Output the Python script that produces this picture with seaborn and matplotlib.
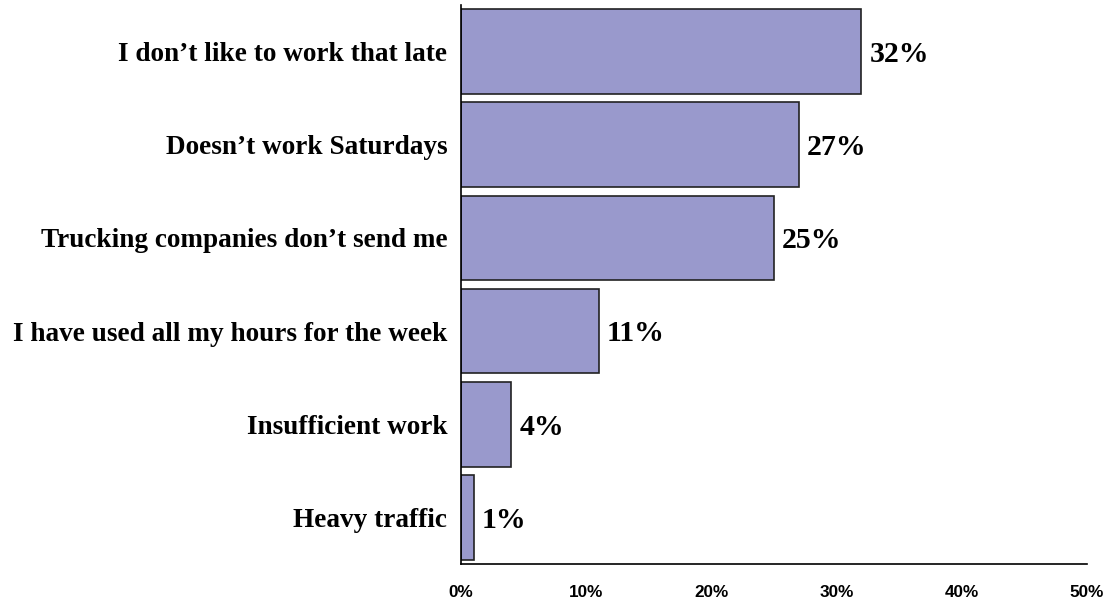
import matplotlib
matplotlib.use("Agg")
import matplotlib.pyplot as plt
import seaborn as sns
import pandas as pd
from matplotlib.ticker import FuncFormatter

reasons = [
    "I don\u2019t like to work that late",
    "Doesn\u2019t work Saturdays",
    "Trucking companies don\u2019t send me",
    "I have used all my hours for the week",
    "Insufficient work",
    "Heavy traffic",
]
shares = [32, 27, 25, 11, 4, 1]
x_ticks = [0, 10, 20, 30, 40, 50]

df = pd.DataFrame({"reason": reasons, "share": shares})

sns.set_style("white")
plt.rcParams["text.color"] = "black"
plt.rcParams["xtick.color"] = "black"
plt.rcParams["ytick.color"] = "black"

fig = plt.figure(figsize=(11.11, 6.03), dpi=100)
ax = fig.add_axes([0.415, 0.0647, 0.978 - 0.415, 0.9917 - 0.0647])

sns.barplot(data=df, y="reason", x="share", orient="h", order=reasons,
            color="#9999CC", saturation=1, width=0.91,
            edgecolor="#222222", linewidth=1.2, ax=ax)

ax.set_xlim(0, 50)
ax.set_ylim(len(reasons) - 0.5, -0.5)
ax.set_xticks(x_ticks)
ax.xaxis.set_major_formatter(FuncFormatter(lambda v, _: f"{v:.0f}%"))
ax.set_xlabel("")
ax.set_ylabel("")

for spine in ["top", "right"]:
    ax.spines[spine].set_visible(False)
for spine in ["left", "bottom"]:
    ax.spines[spine].set_color("black")
    ax.spines[spine].set_linewidth(1.2)

ax.tick_params(axis="x", direction="out", length=5, width=1.2, color="black",
               labelcolor="black", pad=10)
ax.tick_params(axis="y", length=0, pad=10, labelcolor="black")
for lbl in ax.get_xticklabels():
    lbl.set_fontfamily("Liberation Sans")
    lbl.set_fontweight("bold")
    lbl.set_fontsize(12.3)
for lbl in ax.get_yticklabels():
    lbl.set_fontfamily("Liberation Serif")
    lbl.set_fontweight("bold")
    lbl.set_fontsize(19.6)
    lbl.set_verticalalignment("center_baseline")

for i, v in enumerate(shares):
    ax.annotate(f"{v}%", xy=(v, i), xytext=(6, -2), textcoords="offset points",
                va="center", ha="left", fontfamily="Liberation Serif",
                fontweight="bold", fontsize=21.5, color="black")

fig.savefig("out.png", dpi=100)
